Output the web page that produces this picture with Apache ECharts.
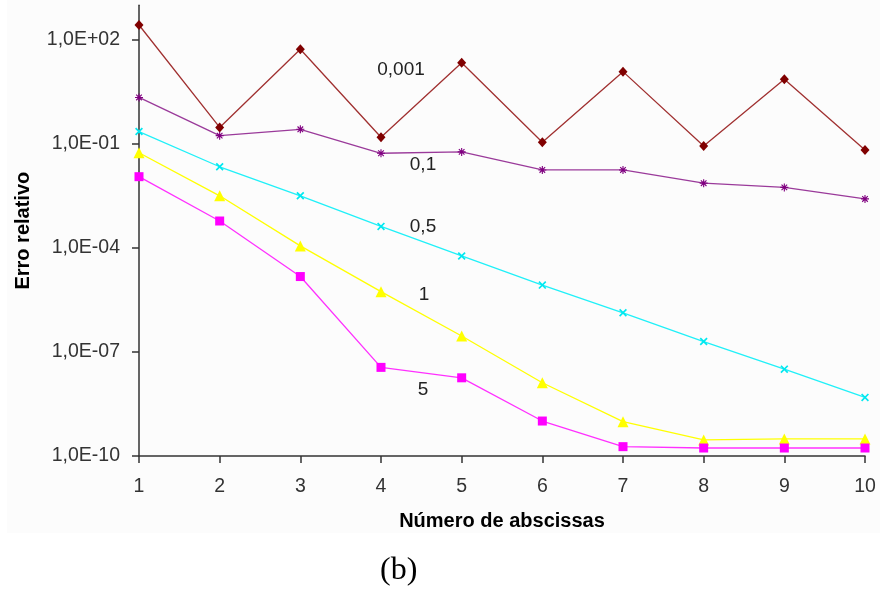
<!DOCTYPE html>
<html>
<head>
<meta charset="utf-8">
<script src="https://cdn.jsdelivr.net/npm/echarts@6/dist/echarts.min.js"></script>
<style>
  html, body { margin: 0; padding: 0; background: #ffffff; }
  #chart { width: 880px; height: 590px; }
</style>
</head>
<body>
<div id="chart"></div>
<script>
// Number of abscissas (x)
const abscissas = [1, 2, 3, 4, 5, 6, 7, 8, 9, 10];

// Relative error series, one per parameter value
const seriesNames = ['0,001', '0,1', '0,5', '1', '5'];
const err0001 = [270, 0.30, 54, 0.156, 22, 0.112, 12.2, 0.087, 7.4, 0.067];
const err01   = [2.2, 0.174, 0.265, 0.054, 0.059, 0.0178, 0.0178, 0.0074, 0.0056, 0.0026];
const err05   = [0.228, 0.022, 0.0032, 4.2e-4, 5.9e-5, 8.5e-6, 1.35e-6, 2.0e-7, 3.2e-8, 4.9e-9];
const err1    = [0.056, 0.0032, 1.15e-4, 5.5e-6, 2.9e-7, 1.3e-8, 9.8e-10, 2.9e-10, 3.1e-10, 3.1e-10];
const err5    = [0.0114, 6.0e-4, 1.5e-5, 3.6e-8, 1.8e-8, 1.02e-9, 1.86e-10, 1.7e-10, 1.7e-10, 1.7e-10];

// tick values
const yTicks = [1e-10, 1e-7, 1e-4, 1e-1, 1e2];
const xTicks = [1, 2, 3, 4, 5, 6, 7, 8, 9, 10];

function fmtSci(v) {
  const e = Math.round(Math.log10(v));
  const sign = e < 0 ? '-' : '+';
  const a = Math.abs(e);
  return '1,0E' + sign + (a < 10 ? '0' + a : '' + a);
}

function pairs(ys) { return abscissas.map((x, i) => [x, ys[i]]); }

const SYM_ASTERISK = 'path://M4.3,0h1.4v10h-1.4z M0,4.3h10v1.4h-10z M1,2L2,1L9,8L8,9z M8,1L9,2L2,9L1,8z';
const SYM_X = 'path://M1,2.2L2.2,1L9,7.8L7.8,9z M7.8,1L9,2.2L2.2,9L1,7.8z';

const lineSpecs = [
  { data: err0001, color: '#800000', line: '#a03030', symbol: 'diamond', size: [9, 10] },
  { data: err01,   color: '#800080', line: '#9a3a9a', symbol: SYM_ASTERISK, size: 8 },
  { data: err05,   color: '#00e8f0', line: '#20f0f8', symbol: SYM_X, size: 8 },
  { data: err1,    color: '#ffff00', line: '#ffff00', symbol: 'triangle', size: 11 },
  { data: err5,    color: '#ff00ff', line: '#ff30ff', symbol: 'rect', size: 9 }
];

const chart = echarts.init(document.getElementById('chart'), null, { renderer: 'canvas' });

const labelFont = 'Liberation Sans, Arial, sans-serif';

chart.setOption({
  backgroundColor: '#ffffff',
  animation: false,
  graphic: [
    { type: 'rect', z: -10, silent: true, shape: { x: 7, y: 0, width: 873, height: 533 }, style: { fill: '#fcfcfc' } },
    { type: 'text', left: 380, top: 555, style: { text: '(b)', font: '32px "Liberation Serif", "Times New Roman", serif', fill: '#000' } },
    { type: 'text', x: 401, y: 70, style: { text: seriesNames[0], font: '19px ' + labelFont, fill: '#222', align: 'center', verticalAlign: 'middle' } },
    { type: 'text', x: 423, y: 165, style: { text: seriesNames[1], font: '19px ' + labelFont, fill: '#222', align: 'center', verticalAlign: 'middle' } },
    { type: 'text', x: 423, y: 227, style: { text: seriesNames[2], font: '19px ' + labelFont, fill: '#222', align: 'center', verticalAlign: 'middle' } },
    { type: 'text', x: 424, y: 295, style: { text: seriesNames[3], font: '19px ' + labelFont, fill: '#222', align: 'center', verticalAlign: 'middle' } },
    { type: 'text', x: 423, y: 390, style: { text: seriesNames[4], font: '19px ' + labelFont, fill: '#222', align: 'center', verticalAlign: 'middle' } }
  ],
  grid: { left: 139, right: 15, top: 5.3, bottom: 134, containLabel: false },
  xAxis: {
    type: 'value',
    min: 1, max: 10, interval: 1,
    name: 'Número de abscissas',
    nameLocation: 'middle',
    nameGap: 55,
    nameTextStyle: { fontFamily: labelFont, fontSize: 20, fontWeight: 'bold', color: '#000' },
    axisLine: { show: true, lineStyle: { color: '#333', width: 1.5 } },
    axisTick: { show: true, inside: false, length: 7, lineStyle: { color: '#333', width: 1.5 } },
    axisLabel: { margin: 21, fontFamily: labelFont, fontSize: 19.5, color: '#333', customValues: xTicks },
    splitLine: { show: false }
  },
  yAxis: {
    type: 'log',
    logBase: 10,
    min: 1e-10, max: 1e3,
    name: 'Erro relativo',
    nameLocation: 'middle',
    nameGap: 106,
    nameRotate: 90,
    nameTextStyle: { fontFamily: labelFont, fontSize: 20, fontWeight: 'bold', color: '#000' },
    axisLine: { show: true, lineStyle: { color: '#333', width: 1.5 } },
    axisTick: { show: true, inside: false, length: 7, lineStyle: { color: '#333', width: 1.5 }, customValues: yTicks },
    axisLabel: { margin: 19, fontFamily: labelFont, fontSize: 19.5, color: '#333', customValues: yTicks, formatter: fmtSci },
    splitLine: { show: false },
    minorTick: { show: false },
    minorSplitLine: { show: false }
  },
  series: lineSpecs.map((s, i) => ({
    name: seriesNames[i],
    type: 'line',
    data: pairs(s.data),
    symbol: s.symbol,
    symbolSize: s.size,
    showSymbol: true,
    clip: false,
    lineStyle: { color: s.line, width: 1.3 },
    itemStyle: { color: s.color, borderWidth: 0 },
    emphasis: { disabled: true }
  }))
});
</script>
</body>
</html>
